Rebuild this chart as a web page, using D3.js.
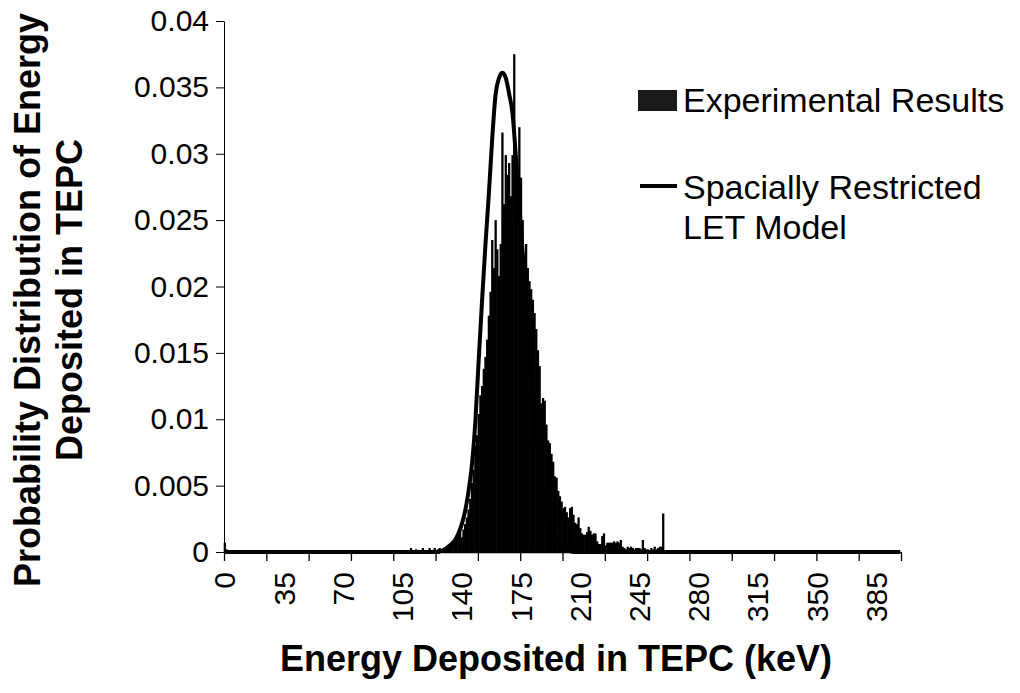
<!DOCTYPE html>
<html>
<head>
<meta charset="utf-8">
<script src="https://cdn.jsdelivr.net/npm/d3@7"></script>
<style>
html,body{margin:0;padding:0;background:#fff;}
svg{display:block;font-family:"Liberation Sans",Arial,sans-serif;}
</style>
</head>
<body>
<svg id="chart" width="1020" height="693"></svg>
<script>
// ---------------- data ----------------
// energy bins (keV), one category per keV
const categories = d3.range(0, 400);

// experimental histogram (non-zero bins only)
const expKeV = [0,1,8,15,30,35,55,70,90,104,110,113,117,121,124,
  126,127,128,129,130,131,132,133,134,135,136,137,138,139,140,141,142,143,144,145,
  146,147,148,149,150,151,152,153,154,155,156,157,158,159,160,161,162,163,164,165,
  166,167,168,169,170,171,172,173,174,175,176,177,178,179,180,181,182,183,184,185,
  186,187,188,189,190,191,192,193,194,195,196,197,198,199,200,201,202,203,204,205,
  206,207,208,209,210,211,212,213,214,215,216,217,218,219,220,221,222,223,224,225,
  226,227,228,229,230,231,232,233,234,235,236,237,238,239,240,241,242,243,244,245,
  246,247,248,249,250,251,252,253,254,255,256,257,258,259,265,290,300,305,316,320];
const expVal = [0.0007,0.0002,0.0001,0.0001,0.0001,0.0001,0.0001,0.0001,0.0001,0.0001,0.0003,0.0002,0.0003,0.0003,0.0003,
  0.0002,0.0003,0.0001,0.0002,0.0002,0.0003,0.0003,0.0004,0.0005,0.0006,0.0008,0.0010,0.0012,0.0015,0.0011,0.0017,0.0021,0.0026,0.0032,0.0040,
  0.0052,0.0062,0.0080,0.0088,0.0104,0.0118,0.0125,0.0138,0.0147,0.0160,0.0178,0.0196,0.0235,0.0214,0.0250,0.0228,0.0208,0.0232,0.0316,0.0262,
  0.0299,0.0284,0.0293,0.0268,0.0299,0.0375,0.0290,0.0276,0.0320,0.0282,0.0250,0.0224,0.0232,0.0214,0.0204,0.0198,0.0190,0.0180,0.0168,0.0152,
  0.0140,0.0112,0.0116,0.0114,0.0096,0.0084,0.0082,0.0074,0.0068,0.0057,0.0056,0.0046,0.0042,0.0038,0.0033,0.0034,0.0030,0.0026,0.0033,0.0034,
  0.0028,0.0022,0.0021,0.0026,0.0018,0.0014,0.0013,0.0013,0.0015,0.0019,0.0016,0.0013,0.0014,0.0014,0.0008,0.0006,0.0006,0.0012,0.0014,0.0005,
  0.0007,0.0007,0.0007,0.0007,0.0008,0.0007,0.0008,0.0007,0.0009,0.0004,0.0003,0.0002,0.0004,0.0003,0.0004,0.0003,0.0002,0.0003,0.0003,0.0003,
  0.0002,0.0009,0.0003,0.0002,0.0002,0.0001,0.0003,0.0002,0.0004,0.0002,0.0003,0.0004,0.0004,0.0029,0.0001,0.0001,0.0001,0.0001,0.0001,0.0001];

// spacially restricted LET model curve
const modelKeV = [0,126,128,130,132,134,136,138,140,142,144,146,148,150,152,154,156,158,160,162,163,164,165,166,
  168,170,172,174,176,178,180,182,184,186,188,190,192,194,196,198,200,203,206,399];
const modelVal = [0,0,0.0001,0.0002,0.0004,0.0006,0.0009,0.0014,0.0021,0.0031,0.0046,0.0066,0.0098,0.0145,0.0190,0.0232,0.0270,0.0312,0.0345,0.0357,0.0360,0.0361,0.0360,0.0357,
  0.0345,0.0330,0.0297,0.0260,0.0225,0.0190,0.0155,0.0122,0.0093,0.0068,0.0048,0.0033,0.0022,0.0014,0.0009,0.0005,0.0003,0.0001,0,0];

const yTicks = [0,0.005,0.01,0.015,0.02,0.025,0.03,0.035,0.04];
const yTickLabels = ["0","0.005","0.01","0.015","0.02","0.025","0.03","0.035","0.04"];
const xTickLabels = [0,35,70,105,140,175,210,245,280,315,350,385];
const xTickMarks = [0,25,50,75,100,125,150,175,200,225,250,275,300,325,350,375,400];

const yTitleLines = ["Probability Distribution of Energy","Deposited in TEPC"];
const xTitle = "Energy Deposited in TEPC (keV)";
const legendLabels = ["Experimental Results","Spacially Restricted","LET Model"];

// ---------------- chart ----------------
const svg = d3.select("#chart");
const plotL = 224, plotR = 901, plotB = 552, plotT = 21;

const x = d3.scaleBand().domain(categories).range([plotL, plotR]).padding(0);
const xEdge = d3.scaleLinear().domain([0, 400]).range([plotL, plotR]);
const y = d3.scaleLinear().domain([0, 0.04]).range([plotB, plotT]);
const bw = x.bandwidth();

const expMap = new Map(expKeV.map((k, i) => [k, expVal[i]]));
const expData = categories.map(k => ({k, v: expMap.get(k) || 0})).filter(d => d.v > 0);

// bars (slightly overlapping so the histogram reads as solid)
svg.append("g").selectAll("rect").data(expData).join("rect")
  .attr("x", d => x(d.k) - 0.3)
  .attr("width", bw + 0.6)
  .attr("y", d => y(d.v))
  .attr("height", d => y(0) - y(d.v))
  .attr("fill", "#000");

// model line
const modelData = modelKeV.map((k, i) => ({k, v: modelVal[i]}));
svg.append("path").datum(modelData)
  .attr("fill", "none").attr("stroke", "#000").attr("stroke-width", 4)
  .attr("stroke-linejoin", "round")
  .attr("d", d3.line().x(d => x(d.k) + bw / 2).y(d => y(d.v)).curve(d3.curveMonotoneX));

// y axis
const yAxis = svg.append("g").attr("transform", `translate(${plotL},0)`)
  .call(d3.axisLeft(y).tickValues(yTicks).tickSizeInner(8).tickSizeOuter(0)
    .tickPadding(7).tickFormat((d, i) => yTickLabels[i]));
yAxis.selectAll("text").attr("font-size", 30).attr("fill", "#000")
  .attr("font-family", '"Liberation Sans",Arial,sans-serif');
yAxis.selectAll("line,path").attr("stroke", "#000");

// x axis (tick marks at category boundaries)
const xAxis = svg.append("g").attr("transform", `translate(0,${plotB})`)
  .call(d3.axisBottom(xEdge).tickValues(xTickMarks).tickSizeInner(9).tickSizeOuter(0).tickFormat(""));
xAxis.selectAll("line,path").attr("stroke", "#000").attr("stroke-width", 1.3);

// x tick labels (rotated) at category centres
svg.append("g").selectAll("text").data(xTickLabels).join("text")
  .attr("transform", d => `translate(${x(d) + bw / 2},${plotB + 20}) rotate(-90)`)
  .attr("text-anchor", "end").attr("dy", "0.35em")
  .attr("font-size", 30).attr("fill", "#000")
  .text(d => d);

// axis titles
svg.append("text").attr("x", 556).attr("y", 671).attr("text-anchor", "middle")
  .attr("font-size", 36).attr("font-weight", "bold").text(xTitle);
svg.append("g").selectAll("text").data(yTitleLines).join("text")
  .attr("transform", (d, i) => `translate(${40 + i * 42},300) rotate(-90)`)
  .attr("text-anchor", "middle").attr("font-size", 36).attr("font-weight", "bold")
  .text(d => d);

// legend
const lg = svg.append("g");
lg.append("rect").attr("x", 638).attr("y", 90).attr("width", 39).attr("height", 21).attr("fill", "#1a1a1a");
lg.append("text").attr("x", 683).attr("y", 112).attr("font-size", 34).text(legendLabels[0]);
lg.append("line").attr("x1", 640).attr("x2", 677).attr("y1", 186).attr("y2", 186)
  .attr("stroke", "#000").attr("stroke-width", 4);
lg.append("text").attr("x", 683).attr("y", 199).attr("font-size", 34).text(legendLabels[1]);
lg.append("text").attr("x", 683).attr("y", 239).attr("font-size", 34).text(legendLabels[2]);
</script>
</body>
</html>
